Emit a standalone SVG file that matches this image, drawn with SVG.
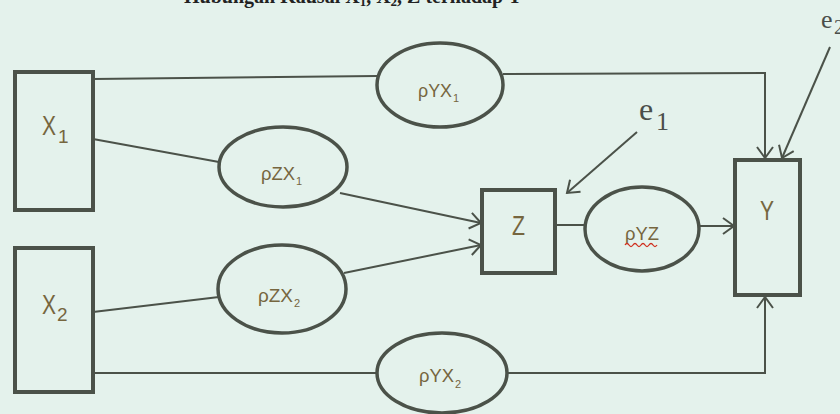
<svg xmlns="http://www.w3.org/2000/svg" width="840" height="414" viewBox="0 0 840 414">
<style>
.bg{fill:#e4f2ec}
.box{fill:none;stroke:#4b5249;stroke-width:4}
.ell{fill:none;stroke:#4b5249;stroke-width:3.5}
.ln{fill:none;stroke:#4b5249;stroke-width:2;stroke-linejoin:miter}
.arr{marker-end:url(#ah)}
.lab{font-family:"Liberation Sans",Arial,sans-serif;fill:#76663f}
.big{font-size:27px}
.bsub{font-size:19px}
.el{font-size:18px}
.esub{font-size:11px}
.err{font-family:"Liberation Serif","Times New Roman",serif;fill:#4a4e4a}
.title{font-family:"Liberation Serif","Times New Roman",serif;font-weight:bold;font-size:20px;fill:#222}
</style>
<defs>
<marker id="ah" markerUnits="userSpaceOnUse" markerWidth="14" markerHeight="18" viewBox="0 0 14 18" refX="12" refY="9" orient="auto">
<path d="M1,1 L12,9 L1,17" fill="none" stroke="#4b5249" stroke-width="2"/>
</marker>
</defs>
<rect class="bg" x="0" y="0" width="840" height="414"/>
<text class="title" x="184" y="3">Hubungan Kausal X<tspan font-size="13" dy="3">1</tspan><tspan dy="-3">, X</tspan><tspan font-size="13" dy="3">2</tspan><tspan dy="-3">, Z terhadap Y</tspan></text>

<g id="connectors">
<polyline class="ln" points="93,79 377,76"/>
<polyline class="ln arr" points="503,74 765,73 765,158"/>
<line class="ln" x1="93" y1="139" x2="219" y2="162"/>
<line class="ln arr" x1="340" y1="193" x2="481" y2="223"/>
<line class="ln" x1="93" y1="312" x2="219" y2="297"/>
<line class="ln arr" x1="344" y1="273" x2="481" y2="245"/>
<line class="ln" x1="93" y1="373" x2="377" y2="373"/>
<polyline class="ln arr" points="507,373 765,373 765,297"/>
<line class="ln" x1="555" y1="225" x2="585" y2="225"/>
<line class="ln arr" x1="698" y1="226" x2="734" y2="226"/>
<line class="ln arr" x1="637" y1="132" x2="567" y2="193"/>
<line class="ln arr" x1="830" y1="47" x2="782" y2="158"/>
</g>

<g id="X1">
<rect class="box" x="15" y="72" width="78" height="138"/>
<text class="lab big" x="42" y="135" textLength="14" lengthAdjust="spacingAndGlyphs">X</text>
<text class="lab bsub" x="58" y="143">1</text>
</g>
<g id="X2">
<rect class="box" x="15" y="248" width="78" height="144"/>
<text class="lab big" x="42" y="314" textLength="14" lengthAdjust="spacingAndGlyphs">X</text>
<text class="lab bsub" x="57" y="321">2</text>
</g>
<g id="Z">
<rect class="box" x="482" y="190" width="73" height="83"/>
<text class="lab big" x="512" y="235" textLength="13" lengthAdjust="spacingAndGlyphs">Z</text>
</g>
<g id="Y">
<rect class="box" x="735" y="160" width="65" height="135"/>
<text class="lab big" x="760" y="220" textLength="14" lengthAdjust="spacingAndGlyphs">Y</text>
</g>

<g id="rhoYX1">
<ellipse class="ell" cx="440" cy="85" rx="63" ry="42"/>
<text class="lab el" x="418" y="97" textLength="34" lengthAdjust="spacingAndGlyphs">ρYX</text>
<text class="lab esub" x="453" y="102">1</text>
</g>
<g id="rhoZX1">
<ellipse class="ell" cx="283" cy="167" rx="64" ry="40"/>
<text class="lab el" x="261" y="180" textLength="34" lengthAdjust="spacingAndGlyphs">ρZX</text>
<text class="lab esub" x="296" y="185">1</text>
</g>
<g id="rhoZX2">
<ellipse class="ell" cx="282" cy="289" rx="64" ry="44"/>
<text class="lab el" x="258" y="302" textLength="35" lengthAdjust="spacingAndGlyphs">ρZX</text>
<text class="lab esub" x="294" y="307">2</text>
</g>
<g id="rhoYX2">
<ellipse class="ell" cx="442" cy="373" rx="65" ry="40"/>
<text class="lab el" x="419" y="382" textLength="35" lengthAdjust="spacingAndGlyphs">ρYX</text>
<text class="lab esub" x="455" y="388">2</text>
</g>
<g id="rhoYZ">
<ellipse class="ell" cx="642" cy="229" rx="57" ry="42"/>
<text class="lab el" x="625" y="240" textLength="34" lengthAdjust="spacingAndGlyphs">ρYZ</text>
<path d="M625,245 q2,-3 4,0 t4,0 t4,0 t4,0 t4,0 t4,0 t4,0 t4,0" fill="none" stroke="#d03020" stroke-width="1.3"/>
</g>

<g id="e1">
<text class="err" x="639" y="120" font-size="32">e</text>
<text class="err" x="656" y="130" font-size="26">1</text>
</g>
<g id="e2">
<text class="err" x="821" y="28" font-size="26">e</text>
<text class="err" x="834" y="34" font-size="20">2</text>
</g>
</svg>
